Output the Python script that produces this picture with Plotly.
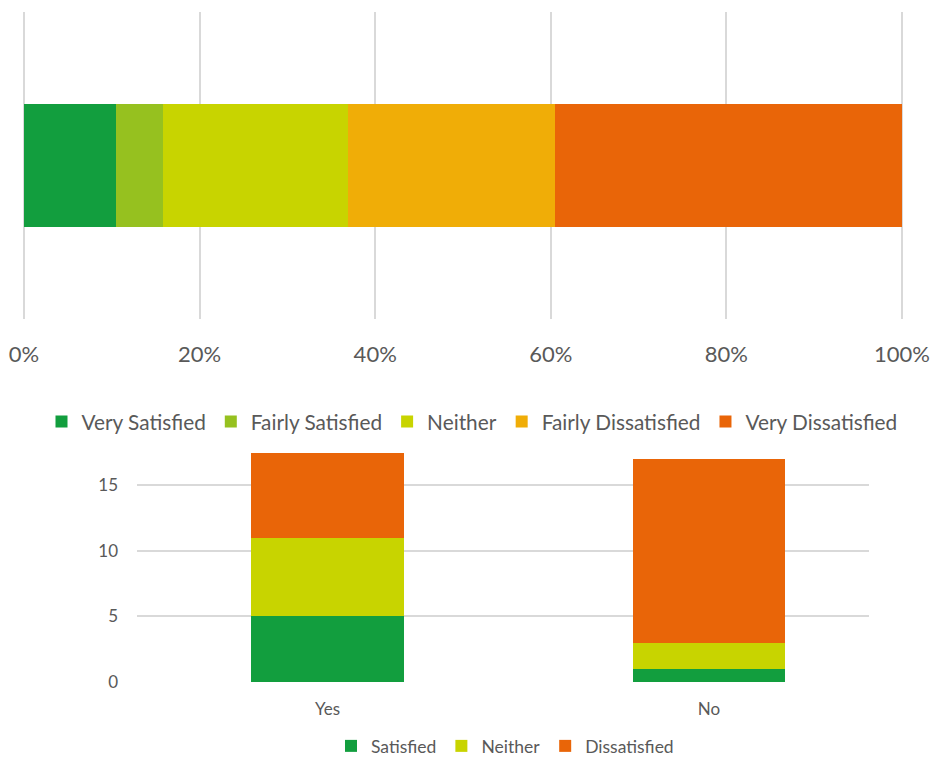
import plotly.graph_objects as go

# Top chart: overall satisfaction (percent of respondents)
top_categories = ["Very Satisfied", "Fairly Satisfied", "Neither", "Fairly Dissatisfied", "Very Dissatisfied"]
top_values = [10.5, 5.3, 21.1, 23.6, 39.5]
top_colors = ["#129E3E", "#96C11F", "#C8D400", "#F0AD07", "#E96508"]
top_ticks = [0, 20, 40, 60, 80, 100]
top_ticklabels = ["0%", "20%", "40%", "60%", "80%", "100%"]

# Bottom chart: counts by group
groups = ["Yes", "No"]
bottom_series = ["Satisfied", "Neither", "Dissatisfied"]
satisfied = [5, 1]
neither = [6, 2]
dissatisfied = [6.5, 14]
bottom_colors = ["#129E3E", "#C8D400", "#E96508"]
bottom_ticks = [0, 5, 10, 15]

FONT = "Lato"
TXT = "#595959"
GRID = "#D9D9D9"

fig = go.Figure()

for name, val, col in zip(top_categories, top_values, top_colors):
    fig.add_trace(go.Bar(
        x=[val], y=["All"], orientation="h", name=name,
        marker=dict(color=col, line=dict(width=0)),
        width=0.4, xaxis="x", yaxis="y", legend="legend",
    ))

for name, vals, col in zip(bottom_series, [satisfied, neither, dissatisfied], bottom_colors):
    fig.add_trace(go.Bar(
        x=groups, y=vals, name=name,
        marker=dict(color=col, line=dict(width=0)),
        width=0.4, xaxis="x2", yaxis="y2", legend="legend2",
    ))

W, H = 930, 758
# top axis: 0% at x=24px, 100% at x=902px; pad range slightly so edge gridlines draw
pad = 0.3
pxu = (902 - 24) / 100.0
x_dom = [(24 - pad * pxu) / W, (902 + pad * pxu) / W]

fig.update_layout(
    width=W, height=H,
    margin=dict(l=0, r=0, t=0, b=0, autoexpand=False),
    paper_bgcolor="white", plot_bgcolor="white",
    barmode="stack",
    font=dict(family=FONT, color=TXT),
    xaxis=dict(
        domain=x_dom, range=[-pad, 100 + pad],
        tickvals=top_ticks, ticktext=top_ticklabels,
        showgrid=True, gridcolor=GRID, gridwidth=1.5,
        zeroline=False, showline=False, automargin=False,
        tickfont=dict(size=22, color=TXT), ticklabelstandoff=20,
        anchor="y",
    ),
    yaxis=dict(
        domain=[1 - 319 / H, 1 - 12 / H], range=[-0.5, 0.5],
        showticklabels=False, showgrid=False, zeroline=False,
        automargin=False, anchor="x",
    ),
    xaxis2=dict(
        domain=[137 / W, 869 / W], range=[-0.5, 1.42],
        showgrid=False, zeroline=False, showline=False, automargin=False,
        tickfont=dict(size=17, color=TXT), ticklabelstandoff=15,
        anchor="y2",
    ),
    yaxis2=dict(
        domain=[1 - 682 / H, 1 - 452.5 / H], range=[0, 17.5],
        tickvals=bottom_ticks,
        showgrid=True, gridcolor=GRID, gridwidth=1.5,
        zeroline=False, showline=False, automargin=False,
        tickfont=dict(size=17, color=TXT), ticklabelstandoff=18,
        anchor="x2",
    ),
    legend=dict(
        orientation="h", x=472 / W, xanchor="center",
        y=1 - 422 / H, yanchor="middle",
        font=dict(size=20.8, color=TXT), traceorder="normal",
        itemclick=False, bgcolor="rgba(0,0,0,0)",
    ),
    legend2=dict(
        orientation="h", x=505 / W, xanchor="center",
        y=1 - 746 / H, yanchor="middle",
        font=dict(size=17.5, color=TXT), traceorder="normal",
        itemclick=False, bgcolor="rgba(0,0,0,0)",
    ),
    showlegend=True,
)

fig.write_html("out.html")
